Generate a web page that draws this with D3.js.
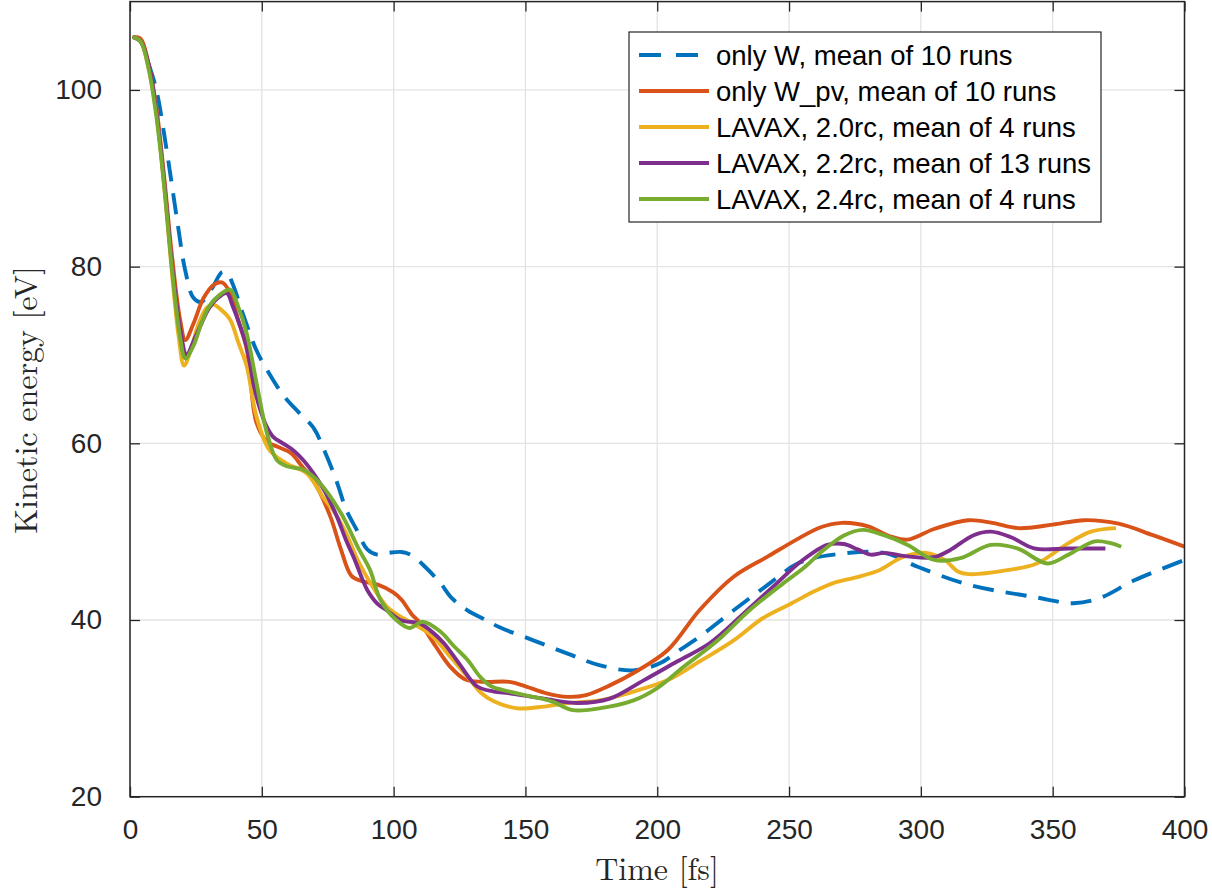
<!DOCTYPE html>
<html><head><meta charset="utf-8">
<script src="https://cdn.jsdelivr.net/npm/d3@7"></script>
<style>html,body{margin:0;padding:0;background:#fff}</style>
</head><body>
<svg id="c" width="1212" height="892"></svg>
<script>
const xTicks = [0,50,100,150,200,250,300,350,400];
const yTicks = [20,40,60,80,100];
const seriesNames = ["only W, mean of 10 runs","only W_pv, mean of 10 runs","LAVAX, 2.0rc, mean of 4 runs","LAVAX, 2.2rc, mean of 13 runs","LAVAX, 2.4rc, mean of 4 runs"];
const seriesColors = ["#0072BD","#D95319","#EDB120","#7E2F8E","#77AC30"];

const onlyW = [[1,106],[4,105.5],[7,103],[10,100],[14,93],[18,85],[21,79.5],[24,76.5],[27,76],[31,77.5],[35,79.4],[37,79.2],[39,78],[43,74.5],[48,70.5],[52,68.3],[58,65.5],[64,63.5],[69.5,61.8],[74,59],[78.6,55.5],[82,52.5],[86,50.2],[90,48],[93.8,47.4],[98,47.6],[103,47.7],[107,47.3],[112,46],[117.7,44.2],[122,42.5],[128,41.1],[135,40],[140,39.2],[153,37.7],[166,36.2],[178,34.9],[191,34.3],[201,35.1],[208,36.5],[216,38.1],[229,41.1],[242,44],[254,46.5],[267,47.4],[286,47.6],[299,46],[318,44],[343,42.6],[358,41.9],[368,42.5],[381,44.5],[400,46.8]];
const onlyWpv = [[1,106],[4,105.8],[7,103],[10,98],[13,90],[16,81],[19,74],[21,71.7],[24,73.5],[28,76.5],[32,78],[35,78.2],[38,77],[41,74],[44.3,70.6],[48,62.3],[52,60.2],[56,59.6],[61,58.9],[65,57.5],[69.6,55.8],[76,51.7],[80,48],[84,45],[88,44.4],[94,44],[100,43.1],[103,42.3],[107,40.6],[110,39.7],[116,37],[121.5,34.7],[127,33.3],[134,33],[144,33],[150,32.5],[158,31.7],[166,31.3],[173,31.5],[182,32.6],[191,34],[204,36.6],[216,41.1],[229,44.9],[242,47.2],[254,49.3],[262,50.5],[270,51],[280,50.6],[288,49.5],[295,49.1],[305,50.3],[318,51.3],[327,51],[337,50.4],[350,50.8],[362,51.3],[375,50.9],[388,49.6],[400,48.3]];
const lavax20 = [[1,106],[4,105.5],[7,102.5],[10,97.5],[13,89],[16,79],[18.5,72],[20.5,68.8],[23,70.5],[26,73.5],[29,75.3],[31.6,75.7],[35,75],[38,74],[41,71.5],[44.3,68.7],[48,63],[53,59.2],[59.5,57.7],[67,56.6],[73,54],[78,52],[82,49.8],[87,46.4],[92,43.8],[97.5,41.5],[102.5,40.4],[108,39.5],[115,38.1],[121,36],[128,33.6],[133,31.8],[138,30.8],[147,30],[157,30.2],[166,30.6],[178,30.9],[191,31.9],[204,33.2],[216,35.3],[229,37.7],[240,40.2],[251,41.9],[260,43.3],[267,44.2],[275,44.8],[284,45.6],[293,47.1],[302,47.6],[309,46.8],[314,45.5],[318,45.2],[334,45.7],[344,46.4],[356,48.7],[364.5,50],[374,50.4]];
const lavax22 = [[1,106],[4,105.5],[7,103],[10,97.5],[13,89.5],[16,80],[19,73],[21.5,70],[24,71.5],[27,73.5],[30,75.3],[33.5,76.5],[36.7,77],[39,75.5],[41.5,73.5],[44.3,70.9],[47,66.5],[49.4,63.8],[52,61.8],[54.4,60.7],[58,60],[62,59.2],[66,58],[69.6,56.6],[74,54.5],[78.5,51.7],[82,49],[85,47],[90,43.4],[94,41.8],[97.5,41.1],[102.5,40],[110,39.6],[114,38.8],[119,37.4],[125,35],[131.6,32.5],[138,31.9],[144,31.7],[157,31.1],[170,30.6],[182,31.1],[195,33.2],[207.5,35.3],[220,37.4],[233,40.8],[245.5,44.2],[254.4,46.6],[264.5,48.5],[270.8,48.6],[276,48],[281,47.4],[286,47.6],[295,47.2],[305,47.1],[311,47.9],[320,49.6],[326.5,50],[334,49.4],[343,48.1],[356,48.1],[370,48.1]];
const lavax24 = [[1,106],[4,105.5],[7,102.5],[10,97],[13,89],[16,79.5],[19,72],[21,69.6],[24,71],[27,73.5],[30,75.5],[34,76.8],[38,77.4],[41,75.5],[44.3,72.4],[48,66.8],[52,61.1],[55.7,58.1],[59.5,57.4],[65.8,57],[72,55.5],[80,52.1],[87,47.9],[91,45.7],[95,42.3],[101,40],[106,39.1],[111,39.8],[117.7,38.7],[123,37],[128,35.5],[133,33.5],[137,32.5],[144,31.9],[153,31.3],[160,30.8],[168,29.8],[178,30],[191,30.9],[200,32.3],[210,34.7],[223,37.7],[235,41.1],[248,44.2],[256,46],[263,47.9],[271,49.6],[278,50.2],[286,49.6],[295,48.5],[305,46.8],[315,47],[326.5,48.5],[336.6,48.1],[348,46.4],[356,47.4],[366,48.9],[372,48.7],[376,48.3]];

const seriesData = [onlyW, onlyWpv, lavax20, lavax22, lavax24];

const svg = d3.select("#c");
const L = 130, R = 1184.5, T = 1.6, B = 796.7;
const x = d3.scaleLinear().domain([0,400]).range([L,R]);
const y = d3.scaleLinear().domain([20,110]).range([B,T]);
const axisColor = "#262626";
const tickFont = "'Liberation Sans', Arial, Helvetica, sans-serif";

// grid
const g = svg.append("g");
g.selectAll("line.gx").data(xTicks).join("line")
  .attr("x1", d=>x(d)).attr("x2", d=>x(d)).attr("y1", T).attr("y2", B)
  .attr("stroke", "#e3e3e3").attr("stroke-width", 1.3);
g.selectAll("line.gy").data(yTicks).join("line")
  .attr("y1", d=>y(d)).attr("y2", d=>y(d)).attr("x1", L).attr("x2", R)
  .attr("stroke", "#e3e3e3").attr("stroke-width", 1.3);

// lines
const line = d3.line().x(d=>x(d[0])).y(d=>y(d[1])).curve(d3.curveCatmullRom.alpha(0.5));
svg.append("clipPath").attr("id","clp").append("rect").attr("x",L).attr("y",T).attr("width",R-L).attr("height",B-T);
const lg = svg.append("g").attr("clip-path","url(#clp)");
seriesData.forEach((d,i)=>{
  lg.append("path").attr("d", line(d)).attr("fill","none")
    .attr("stroke", seriesColors[i]).attr("stroke-width", 3.9)
    .attr("stroke-linejoin","round")
    .attr("stroke-dasharray", i===0 ? "21,12" : null);
});

// axes
const xa = d3.axisBottom(x).tickValues(xTicks).tickSize(-10).tickPadding(22).tickSizeOuter(0);
const ya = d3.axisLeft(y).tickValues(yTicks).tickSize(-10).tickPadding(28).tickSizeOuter(0);
const xt = d3.axisTop(x).tickValues(xTicks).tickSize(-10).tickFormat("").tickSizeOuter(0);
const yr = d3.axisRight(y).tickValues(yTicks).tickSize(-10).tickFormat("").tickSizeOuter(0);
function style(sel){
  sel.select(".domain").remove();
  sel.selectAll("line").attr("stroke", axisColor).attr("stroke-width", 1.3);
  sel.selectAll("text").attr("fill", axisColor).style("font-family", tickFont).style("font-size","28px");
}
svg.append("g").attr("transform",`translate(0,${B})`).call(xa).call(style);
svg.append("g").attr("transform",`translate(${L},0)`).call(ya).call(style);
svg.append("g").attr("transform",`translate(0,${T})`).call(xt).call(style);
svg.append("g").attr("transform",`translate(${R},0)`).call(yr).call(style);
svg.append("rect").attr("x",L).attr("y",T).attr("width",R-L).attr("height",B-T)
  .attr("fill","none").attr("stroke",axisColor).attr("stroke-width",1.5);

// axis labels
const serif = "'Latin Modern Roman','CMU Serif','Liberation Serif','DejaVu Serif',serif";
svg.append("text").attr("x", 657).attr("y", 880).attr("text-anchor","middle")
  .style("font-family", serif).style("font-size","32px").attr("fill","#262626").text("Time [fs]");
svg.append("text").attr("transform",`translate(37,400) rotate(-90)`).attr("text-anchor","middle")
  .style("font-family", serif).style("font-size","32px").attr("fill","#262626").text("Kinetic energy [eV]");

// legend
const lgx = 629, lgy = 32, lgw = 472, lgh = 190;
const leg = svg.append("g");
leg.append("rect").attr("x",lgx).attr("y",lgy).attr("width",lgw).attr("height",lgh)
  .attr("fill","#fff").attr("stroke","#262626").attr("stroke-width",1.2);
seriesNames.forEach((n,i)=>{
  const cy = 55 + i*36;
  leg.append("line").attr("x1",639).attr("x2",709).attr("y1",cy).attr("y2",cy)
    .attr("stroke",seriesColors[i]).attr("stroke-width",3.9)
    .attr("stroke-dasharray", i===0 ? "22,15" : null);
  leg.append("text").attr("x",716).attr("y",cy).attr("dy","0.35em")
    .style("font-family",tickFont).style("font-size","27.5px").attr("fill","#000").text(n);
});
</script>
</body></html>
